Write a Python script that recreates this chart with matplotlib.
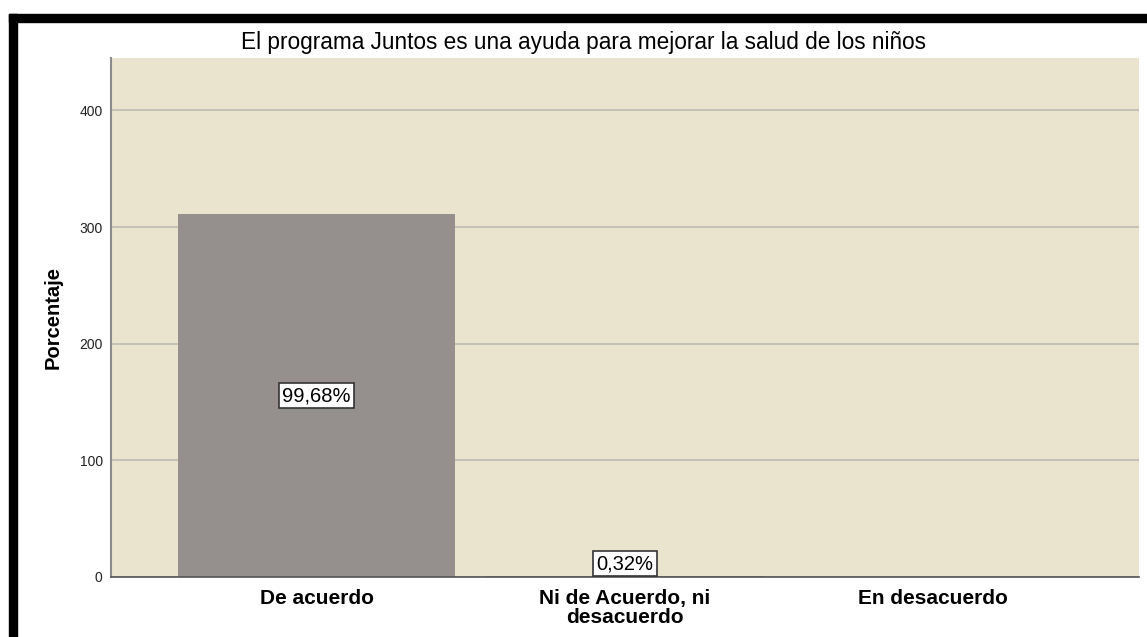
import matplotlib
matplotlib.use("Agg")
from matplotlib import pyplot as plt
from matplotlib.patches import Rectangle

plt.rcParams['font.family'] = ['Liberation Sans', 'DejaVu Sans']

categories = ["De acuerdo", "Ni de Acuerdo, ni\ndesacuerdo", "En desacuerdo"]
counts = [311, 1, 0]
pct_labels = ["99,68%", "0,32%", None]
yticks = [0, 100, 200, 300, 400]
title = "El programa Juntos es una ayuda para mejorar la salud de los niños"

fig = plt.figure(figsize=(11.47, 6.37), dpi=100)
ax = fig.add_axes([0.0968, 0.0942, 0.8962, 0.8148])
ax.set_facecolor("#EAE4CF")

x = list(range(len(categories)))
ax.bar(x, counts, width=0.9, color="#958F8E", zorder=2)
ax.set_xlim(-2 / 3, 8 / 3)
ax.set_ylim(0, 445)

ax.set_yticks(yticks)
ax.set_yticklabels([str(v) for v in yticks], fontsize=10, color="#222222")
ax.yaxis.grid(True, color="#BDBAB3", linewidth=1.2, zorder=1)
ax.set_axisbelow(True)
ax.set_xticks(x)
ax.set_xticklabels(categories, fontsize=15, fontweight="bold", linespacing=1.0)
ax.tick_params(axis="both", length=0)
ax.tick_params(axis="y", pad=6)
ax.tick_params(axis="x", pad=9)

for s in ["top", "right"]:
    ax.spines[s].set_visible(False)
ax.spines["left"].set_color("#8C8C8C")
ax.spines["left"].set_linewidth(1.5)
ax.spines["bottom"].set_color("#555555")
ax.spines["bottom"].set_linewidth(1.2)

box = dict(boxstyle="square,pad=0.15", facecolor="white", edgecolor="#333333", linewidth=1.2)
for xi, c, lab in zip(x, counts, pct_labels):
    if lab is None:
        continue
    if c > 50:
        ax.text(xi, c / 2, lab, ha="center", va="center", fontsize=14.5, bbox=box, zorder=3)
    else:
        ax.annotate(lab, (xi, c), xytext=(0, 2), textcoords="offset points",
                    ha="center", va="bottom", fontsize=14.5, bbox=box, zorder=3)

ax.set_ylabel("Porcentaje", fontsize=14.5, fontweight="bold", labelpad=12)
fig.text(0.509, 0.933, title, ha="center", va="center", fontsize=16.3)

# black frame on top and left
fig.add_artist(Rectangle((9 / 1147, 1 - 22 / 637), 1 - 9 / 1147, 8 / 637,
                         transform=fig.transFigure, color="black"))
fig.add_artist(Rectangle((9 / 1147, 0), 8 / 1147, 1 - 14 / 637,
                         transform=fig.transFigure, color="black"))

fig.savefig("out.png", dpi=100, facecolor="white")
